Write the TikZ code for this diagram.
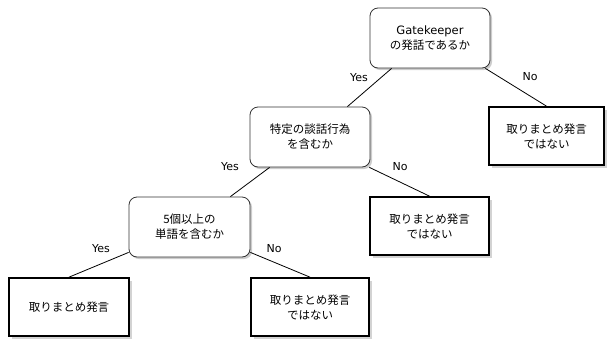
\documentclass[tikz,border=0pt]{standalone}
\usepackage{fontspec}
\setmainfont{DejaVu Sans}
\newfontfamily\jp{Noto Sans CJK JP}
\usetikzlibrary{shadows,calc}
\tikzset{
  decision/.style={draw=black!80, line width=0.8pt, rounded corners=8pt, fill=white,
    minimum width=120pt, minimum height=60pt, align=center, inner sep=2pt,
    font=\fontsize{11.5}{15}\selectfont,
    drop shadow={shadow xshift=2pt, shadow yshift=-2pt, opacity=0.4}},
  leaf/.style={draw=black, line width=1.7pt, fill=white,
    minimum width=118pt, minimum height=58pt, align=center, inner sep=2pt,
    font=\fontsize{11.5}{15}\selectfont,
    drop shadow={shadow xshift=3pt, shadow yshift=-3pt, opacity=0.35}},
  edge/.style={draw=black, line width=0.8pt},
  lab/.style={font=\fontsize{11}{13}\selectfont, inner sep=0pt}
}
\begin{document}
\begin{tikzpicture}[x=1pt, y=-1pt]
\useasboundingbox (0,0) rectangle (608,341);
% nodes
\node[decision] (root) at (430,38) {Gatekeeper\\{\jp の発話であるか}};
\node[leaf, minimum width=115pt] (r1) at (546.5,136) {\jp 取りまとめ発言\\\jp ではない};
\node[decision] (mid) at (310,137) {\jp 特定の談話行為\\\jp を含むか};
\node[leaf, minimum width=119pt] (r2) at (429.5,226) {\jp 取りまとめ発言\\\jp ではない};
\node[decision, minimum width=121pt] (low) at (189.5,227) {\jp 5個以上の\\\jp 単語を含むか};
\node[leaf, minimum width=120pt] (l3) at (69,307) {\jp 取りまとめ発言};
\node[leaf] (l4) at (310,307) {\jp 取りまとめ発言\\\jp ではない};
% anchor points
\coordinate (rootY) at ([xshift=22pt]root.south west);
\coordinate (rootN) at ([xshift=-5pt]root.south east);
\coordinate (midT) at ([xshift=-23pt]mid.north east);
\coordinate (midY) at ([xshift=20pt]mid.south west);
\coordinate (midN) at ([xshift=-1pt]mid.south east);
\coordinate (lowT) at ([xshift=-20pt]low.north east);
\coordinate (lowY) at ([yshift=5pt]low.south west);
\coordinate (lowN) at ([yshift=5pt]low.south east);
% edges
\draw[edge] (rootY) -- (midT);
\draw[edge] (rootN) -- (r1.north);
\draw[edge] (midY) -- (lowT);
\draw[edge] (midN) -- (r2.north);
\draw[edge] (lowY) -- (l3.north);
\draw[edge] (lowN) -- (l4.north);
% labels
\node[lab] (y1) at (359,78) {Yes};
\node[lab] (n1) at (530,77) {No};
\node[lab] (y2) at (230,167) {Yes};
\node[lab] (n2) at (400,167) {No};
\node[lab] (y3) at (101,249) {Yes};
\node[lab] (n3) at (274,249) {No};
\end{tikzpicture}
\end{document}
